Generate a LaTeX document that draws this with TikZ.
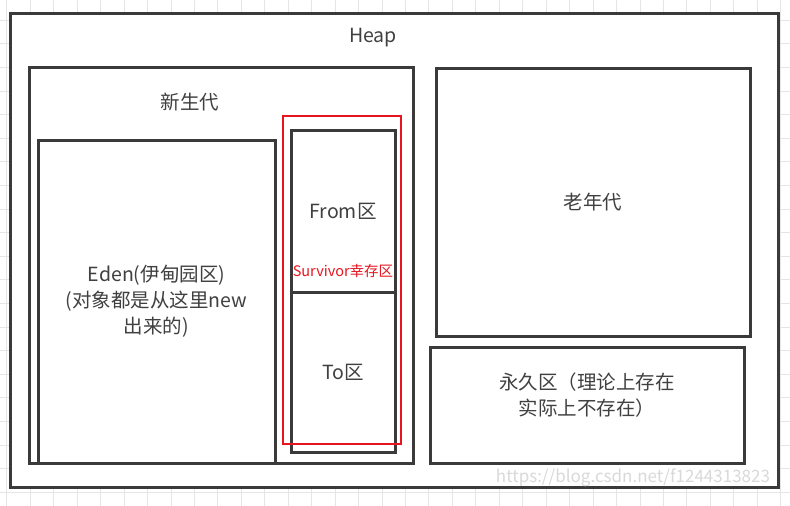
\documentclass[tikz,border=0pt]{standalone}
\usepackage{fontspec}
\setmainfont{Noto Sans CJK SC}
\definecolor{boxgray}{RGB}{58,58,58}
\definecolor{txtgray}{RGB}{64,64,64}
\definecolor{gridgray}{RGB}{229,229,229}
\definecolor{survred}{RGB}{232,20,30}

\begin{document}
\begin{tikzpicture}[x=1pt, y=-1pt,
  region/.style={draw=boxgray, line width=3pt, rectangle, inner sep=0pt, fill=white, align=center, text=txtgray, font=\fontsize{19.5}{26}\selectfont},
  tag/.style={text=txtgray, align=center, font=\fontsize{19.5}{26}\selectfont}]
  \useasboundingbox (0,0) rectangle (790,506);
  % background grid
  \foreach \i in {0,...,33} \draw[gridgray] (6.55+\i*23.45,0) -- (6.55+\i*23.45,506);
  \foreach \j in {0,...,20} \draw[gridgray] (0,20+\j*23.6) -- (790,20+\j*23.6);
  % heap
  \node[region, minimum width=768, minimum height=474] (heap) at (394,250) {};
  \node[tag] (heaptxt) at (373,38) {Heap};
  % young generation
  \node[region, minimum width=384, minimum height=396] (young) at (221,265) {};
  \node[tag] (youngtxt) at (190,102) {新生代};
  \node[region, minimum width=237, minimum height=323] (eden) at (156.5,301.5) {Eden(伊甸园区)\\ (对象都是从这里new\\出来的)};
  \node[region, minimum width=104, minimum height=162] (from) at (343,211) {From区};
  \node[region, minimum width=104, minimum height=160] (to) at (343,372) {To区};
  \node[draw=survred, line width=1.5pt, rectangle, minimum width=118, minimum height=328] (surv) at (342,280) {};
  \node[text=survred, font=\fontsize{14.5}{18}\selectfont] (survtxt) at (343,271) {Survivor幸存区};
  % old and perm
  \node[region, minimum width=314, minimum height=268] (old) at (593,202) {老年代};
  \node[region, minimum width=314, minimum height=116] (perm) at (587,405) {};
  \node[tag] (permtxt) at ([yshift=10pt]perm.center) {永久区（理论上存在\\实际上不存在）};
  \node[text=gray!30, font=\fontsize{17}{20}\selectfont] (watermark) at (633,478) {https://blog.csdn.net/f1244313823};
\end{tikzpicture}
\end{document}
